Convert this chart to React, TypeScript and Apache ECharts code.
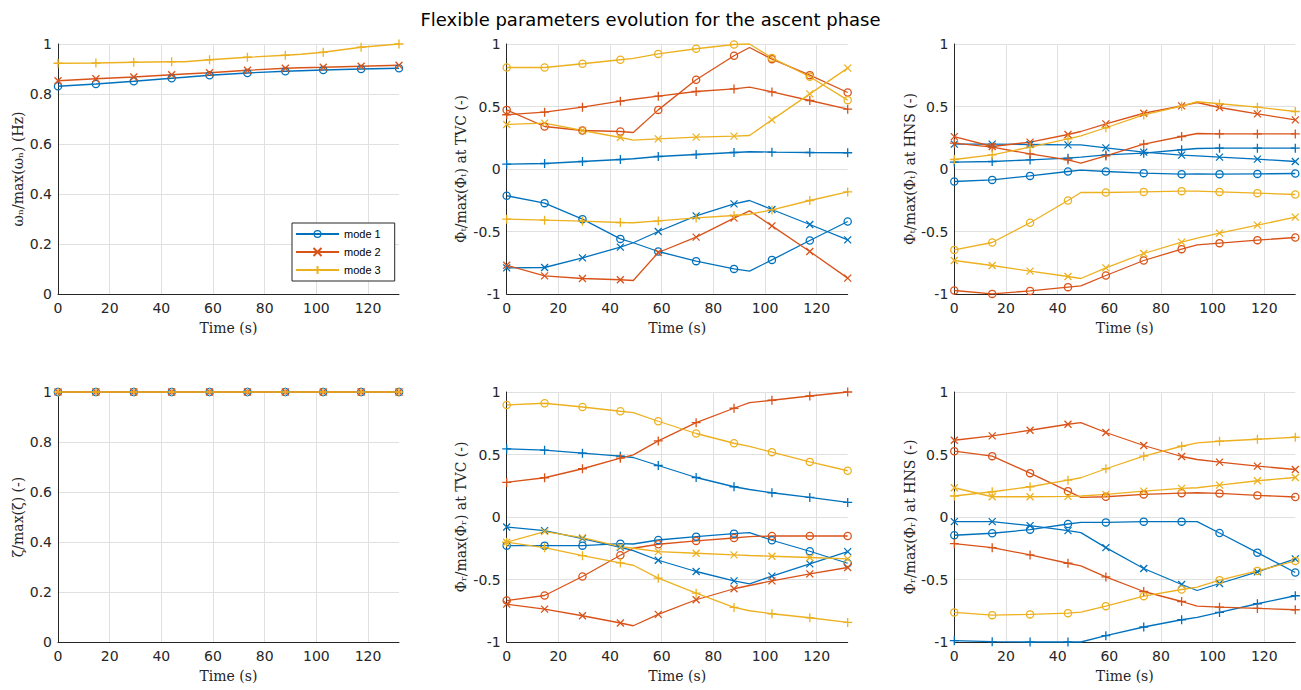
import React, { useEffect, useRef } from 'react';
import * as echarts from 'echarts';

// Time samples (s); indices 4 and 8 are line break points drawn without a marker
const TIME = [0, 14.67, 29.33, 44, 49, 58.67, 73.33, 88, 94, 102.67, 117.33, 132];
const KINK = [4, 8];
const X_TICKS = [0, 20, 40, 60, 80, 100, 120];

const MODES = ['mode 1', 'mode 2', 'mode 3'];
const COLORS = ['#0072BD', '#D95319', '#EDB120'];

// Plot 1: natural frequency
const OMEGA_M1 = [0.831, 0.84, 0.851, 0.863, 0.867, 0.875, 0.884, 0.891, 0.893, 0.896, 0.9, 0.903];
const OMEGA_M2 = [0.853, 0.861, 0.868, 0.877, 0.88, 0.885, 0.895, 0.903, 0.905, 0.907, 0.911, 0.915];
const OMEGA_M3 = [0.923, 0.924, 0.927, 0.929, 0.929, 0.937, 0.947, 0.955, 0.959, 0.967, 0.987, 1.0];

// Plot 4: damping
const ZETA_M1 = [1, 1, 1, 1, 1, 1, 1, 1, 1, 1, 1, 1];
const ZETA_M2 = [1, 1, 1, 1, 1, 1, 1, 1, 1, 1, 1, 1];
const ZETA_M3 = [1, 1, 1, 1, 1, 1, 1, 1, 1, 1, 1, 1];

// Plot 2: Phi_t at TVC (o, x, + per mode)
const PT_TVC_M1_O = [-0.214, -0.273, -0.401, -0.559, -0.59, -0.66, -0.737, -0.799, -0.817, -0.727, -0.572, -0.42];
const PT_TVC_M1_X = [-0.791, -0.788, -0.711, -0.625, -0.59, -0.5, -0.375, -0.279, -0.252, -0.324, -0.444, -0.567];
const PT_TVC_M1_P = [0.039, 0.044, 0.06, 0.076, 0.082, 0.1, 0.116, 0.132, 0.138, 0.135, 0.132, 0.13];
const PT_TVC_M2_O = [0.473, 0.34, 0.308, 0.3, 0.292, 0.473, 0.714, 0.906, 0.972, 0.879, 0.751, 0.612];
const PT_TVC_M2_X = [-0.77, -0.855, -0.876, -0.886, -0.892, -0.668, -0.545, -0.393, -0.335, -0.455, -0.66, -0.873];
const PT_TVC_M2_P = [0.434, 0.455, 0.495, 0.543, 0.558, 0.583, 0.62, 0.641, 0.655, 0.617, 0.548, 0.479];
const PT_TVC_M3_O = [0.812, 0.812, 0.842, 0.874, 0.885, 0.921, 0.962, 0.996, 1.0, 0.889, 0.738, 0.551];
const PT_TVC_M3_X = [0.356, 0.367, 0.308, 0.252, 0.231, 0.241, 0.255, 0.263, 0.268, 0.393, 0.601, 0.807];
const PT_TVC_M3_P = [-0.401, -0.409, -0.417, -0.428, -0.43, -0.415, -0.391, -0.372, -0.362, -0.327, -0.252, -0.183];

// Plot 3: Phi_t at HNS
const PT_HNS_M1_O = [-0.1, -0.087, -0.055, -0.02, -0.009, -0.02, -0.033, -0.041, -0.039, -0.041, -0.039, -0.036];
const PT_HNS_M1_X = [0.199, 0.199, 0.196, 0.193, 0.193, 0.169, 0.135, 0.111, 0.105, 0.095, 0.079, 0.06];
const PT_HNS_M1_P = [0.055, 0.06, 0.073, 0.087, 0.095, 0.113, 0.127, 0.154, 0.164, 0.167, 0.167, 0.167];
const PT_HNS_M2_O = [-0.972, -0.999, -0.975, -0.945, -0.935, -0.852, -0.732, -0.641, -0.607, -0.593, -0.569, -0.548];
const PT_HNS_M2_X = [0.259, 0.18, 0.215, 0.276, 0.3, 0.361, 0.446, 0.505, 0.532, 0.492, 0.441, 0.393];
const PT_HNS_M2_P = [0.207, 0.175, 0.121, 0.073, 0.047, 0.105, 0.199, 0.26, 0.284, 0.281, 0.281, 0.281];
const PT_HNS_M3_O = [-0.647, -0.588, -0.43, -0.252, -0.188, -0.188, -0.183, -0.177, -0.177, -0.183, -0.193, -0.204];
const PT_HNS_M3_X = [-0.732, -0.772, -0.817, -0.86, -0.876, -0.791, -0.676, -0.585, -0.553, -0.513, -0.449, -0.385];
const PT_HNS_M3_P = [0.076, 0.113, 0.175, 0.241, 0.265, 0.33, 0.433, 0.503, 0.538, 0.522, 0.495, 0.46];

// Plot 5: Phi_r at TVC
const PR_TVC_M1_O = [-0.229, -0.229, -0.229, -0.213, -0.216, -0.184, -0.157, -0.133, -0.125, -0.186, -0.274, -0.37];
const PR_TVC_M1_X = [-0.08, -0.109, -0.173, -0.242, -0.269, -0.346, -0.436, -0.511, -0.535, -0.473, -0.375, -0.277];
const PR_TVC_M1_P = [0.545, 0.535, 0.511, 0.487, 0.476, 0.412, 0.316, 0.242, 0.22, 0.194, 0.157, 0.117];
const PR_TVC_M2_O = [-0.668, -0.628, -0.476, -0.306, -0.25, -0.218, -0.191, -0.168, -0.157, -0.152, -0.152, -0.152];
const PR_TVC_M2_X = [-0.697, -0.737, -0.79, -0.848, -0.87, -0.779, -0.662, -0.574, -0.548, -0.511, -0.455, -0.404];
const PR_TVC_M2_P = [0.277, 0.314, 0.386, 0.471, 0.497, 0.609, 0.755, 0.87, 0.915, 0.934, 0.968, 1.0];
const PR_TVC_M3_O = [0.896, 0.91, 0.88, 0.846, 0.835, 0.766, 0.668, 0.59, 0.565, 0.519, 0.441, 0.37];
const PR_TVC_M3_X = [-0.202, -0.117, -0.165, -0.237, -0.25, -0.277, -0.29, -0.303, -0.308, -0.314, -0.324, -0.335];
const PR_TVC_M3_P = [-0.202, -0.245, -0.309, -0.367, -0.386, -0.489, -0.609, -0.723, -0.75, -0.774, -0.806, -0.843];

// Plot 6: Phi_r at HNS
const PR_HNS_M1_O = [-0.146, -0.13, -0.101, -0.056, -0.043, -0.043, -0.037, -0.037, -0.037, -0.128, -0.285, -0.444];
const PR_HNS_M1_X = [-0.037, -0.037, -0.069, -0.109, -0.125, -0.245, -0.412, -0.54, -0.588, -0.532, -0.439, -0.335];
const PR_HNS_M1_P = [-0.989, -0.997, -1.0, -1.0, -1.0, -0.949, -0.88, -0.822, -0.803, -0.763, -0.694, -0.63];
const PR_HNS_M2_O = [0.527, 0.487, 0.351, 0.207, 0.157, 0.162, 0.181, 0.191, 0.194, 0.189, 0.173, 0.16];
const PR_HNS_M2_X = [0.614, 0.649, 0.694, 0.742, 0.755, 0.676, 0.572, 0.484, 0.46, 0.439, 0.407, 0.38];
const PR_HNS_M2_P = [-0.213, -0.245, -0.303, -0.37, -0.391, -0.479, -0.596, -0.676, -0.713, -0.721, -0.731, -0.742];
const PR_HNS_M3_O = [-0.763, -0.785, -0.779, -0.769, -0.761, -0.713, -0.633, -0.58, -0.561, -0.505, -0.431, -0.351];
const PR_HNS_M3_X = [0.234, 0.162, 0.162, 0.165, 0.168, 0.181, 0.207, 0.229, 0.234, 0.255, 0.29, 0.316];
const PR_HNS_M3_P = [0.168, 0.202, 0.242, 0.295, 0.314, 0.386, 0.487, 0.566, 0.593, 0.606, 0.622, 0.638];

const TITLE = 'Flexible parameters evolution for the ascent phase';
const Y_NAMES = [
  'ωₙ/max(ωₙ) (Hz)',
  'Φₜ/max(Φₜ) at TVC (-)',
  'Φₜ/max(Φₜ) at HNS (-)',
  'ζ/max(ζ) (-)',
  'Φᵣ/max(Φᵣ) at TVC (-)',
  'Φᵣ/max(Φᵣ) at HNS (-)',
];
const X_NAME = 'Time (s)';

const SYM: Record<string, { symbol: string; size: number; bw: number }> = {
  o: {
    symbol: 'path://M0,5A5,5,0,1,0,10,5A5,5,0,1,0,0,5ZM1.5,5A3.5,3.5,0,1,1,8.5,5A3.5,3.5,0,1,1,1.5,5Z',
    size: 8.5,
    bw: 0,
  },
  x: { symbol: 'path://M0,0L10,10M10,0L0,10', size: 7, bw: 1.3 },
  p: { symbol: 'path://M5,0L5,10M0,5L10,5', size: 9, bw: 1.3 },
};

const GRIDS = [
  { left: 58, top: 44 },
  { left: 506.7, top: 44 },
  { left: 954.3, top: 44 },
  { left: 58, top: 392 },
  { left: 506.7, top: 392 },
  { left: 954.3, top: 392 },
];
const NAME_GAPS = [33, 39, 37, 33, 39, 37];

function mkSeries(name: string, g: number, values: number[], mode: number, marker: string) {
  const c = COLORS[mode];
  const s = SYM[marker];
  return {
    type: 'line',
    name,
    xAxisIndex: g,
    yAxisIndex: g,
    data: TIME.map((t, i) =>
      KINK.includes(i) ? { value: [t, values[i]], symbol: 'none' } : [t, values[i]]
    ),
    symbol: s.symbol,
    symbolSize: s.size,
    showAllSymbol: true,
    lineStyle: { color: c, width: 1.3 },
    itemStyle: { color: c, borderColor: c, borderWidth: s.bw },
    emphasis: { disabled: true },
    silent: true,
    clip: false,
  };
}

const fmt = (v: number) => String(Math.round(v * 10) / 10);

export default function App() {
  const ref = useRef<HTMLDivElement>(null);
  useEffect(() => {
    if (!ref.current) return;
    const chart = echarts.init(ref.current, undefined, { renderer: 'svg' });
    const grids = GRIDS.map((g) => ({ left: g.left, top: g.top, width: 341, height: 250 }));
    const xAxes = GRIDS.map((_, g) => ({
      type: 'value',
      gridIndex: g,
      min: 0,
      max: 132,
      interval: 20,
      axisLine: { show: true, onZero: false, lineStyle: { color: '#262626', width: 1 } },
      axisTick: { show: false },
      axisLabel: {
        color: '#262626',
        fontFamily: 'DejaVu Sans',
        fontSize: 14,
        margin: 7,
        formatter: (v: number) => (X_TICKS.includes(Math.round(v)) && Math.abs(v - Math.round(v)) < 1e-6 ? String(Math.round(v)) : ''),
      },
      splitLine: { show: true, showMaxLine: false, lineStyle: { color: '#e0e0e0', width: 1 } },
      name: X_NAME,
      nameLocation: 'middle',
      nameGap: 27,
      nameTextStyle: { fontFamily: 'DejaVu Serif', fontSize: 14, color: '#262626' },
    }));
    const yAxes = GRIDS.map((_, g) => {
      const unit = g === 0 || g === 3;
      return {
        type: 'value',
        gridIndex: g,
        min: unit ? 0 : -1,
        max: 1,
        interval: unit ? 0.2 : 0.5,
        axisLine: { show: true, onZero: false, lineStyle: { color: '#262626', width: 1 } },
        axisTick: { show: false },
        axisLabel: { color: '#262626', fontFamily: 'DejaVu Sans', fontSize: 14, margin: 6, formatter: fmt },
        splitLine: { show: true, lineStyle: { color: '#e0e0e0', width: 1 } },
        name: Y_NAMES[g],
        nameLocation: 'middle',
        nameGap: NAME_GAPS[g],
        nameRotate: 90,
        nameTextStyle: { fontFamily: 'DejaVu Serif', fontSize: 14, color: '#262626' },
      };
    });
    const series: any[] = [
      mkSeries('mode 1', 0, OMEGA_M1, 0, 'o'),
      mkSeries('mode 2', 0, OMEGA_M2, 1, 'x'),
      mkSeries('mode 3', 0, OMEGA_M3, 2, 'p'),

      mkSeries('p2 m1 o', 1, PT_TVC_M1_O, 0, 'o'),
      mkSeries('p2 m1 x', 1, PT_TVC_M1_X, 0, 'x'),
      mkSeries('p2 m1 +', 1, PT_TVC_M1_P, 0, 'p'),
      mkSeries('p2 m2 o', 1, PT_TVC_M2_O, 1, 'o'),
      mkSeries('p2 m2 x', 1, PT_TVC_M2_X, 1, 'x'),
      mkSeries('p2 m2 +', 1, PT_TVC_M2_P, 1, 'p'),
      mkSeries('p2 m3 o', 1, PT_TVC_M3_O, 2, 'o'),
      mkSeries('p2 m3 x', 1, PT_TVC_M3_X, 2, 'x'),
      mkSeries('p2 m3 +', 1, PT_TVC_M3_P, 2, 'p'),

      mkSeries('p3 m1 o', 2, PT_HNS_M1_O, 0, 'o'),
      mkSeries('p3 m1 x', 2, PT_HNS_M1_X, 0, 'x'),
      mkSeries('p3 m1 +', 2, PT_HNS_M1_P, 0, 'p'),
      mkSeries('p3 m2 o', 2, PT_HNS_M2_O, 1, 'o'),
      mkSeries('p3 m2 x', 2, PT_HNS_M2_X, 1, 'x'),
      mkSeries('p3 m2 +', 2, PT_HNS_M2_P, 1, 'p'),
      mkSeries('p3 m3 o', 2, PT_HNS_M3_O, 2, 'o'),
      mkSeries('p3 m3 x', 2, PT_HNS_M3_X, 2, 'x'),
      mkSeries('p3 m3 +', 2, PT_HNS_M3_P, 2, 'p'),

      mkSeries('p4 m1', 3, ZETA_M1, 0, 'o'),
      mkSeries('p4 m2', 3, ZETA_M2, 1, 'x'),
      mkSeries('p4 m3', 3, ZETA_M3, 2, 'p'),

      mkSeries('p5 m1 o', 4, PR_TVC_M1_O, 0, 'o'),
      mkSeries('p5 m1 x', 4, PR_TVC_M1_X, 0, 'x'),
      mkSeries('p5 m1 +', 4, PR_TVC_M1_P, 0, 'p'),
      mkSeries('p5 m2 o', 4, PR_TVC_M2_O, 1, 'o'),
      mkSeries('p5 m2 x', 4, PR_TVC_M2_X, 1, 'x'),
      mkSeries('p5 m2 +', 4, PR_TVC_M2_P, 1, 'p'),
      mkSeries('p5 m3 o', 4, PR_TVC_M3_O, 2, 'o'),
      mkSeries('p5 m3 x', 4, PR_TVC_M3_X, 2, 'x'),
      mkSeries('p5 m3 +', 4, PR_TVC_M3_P, 2, 'p'),

      mkSeries('p6 m1 o', 5, PR_HNS_M1_O, 0, 'o'),
      mkSeries('p6 m1 x', 5, PR_HNS_M1_X, 0, 'x'),
      mkSeries('p6 m1 +', 5, PR_HNS_M1_P, 0, 'p'),
      mkSeries('p6 m2 o', 5, PR_HNS_M2_O, 1, 'o'),
      mkSeries('p6 m2 x', 5, PR_HNS_M2_X, 1, 'x'),
      mkSeries('p6 m2 +', 5, PR_HNS_M2_P, 1, 'p'),
      mkSeries('p6 m3 o', 5, PR_HNS_M3_O, 2, 'o'),
      mkSeries('p6 m3 x', 5, PR_HNS_M3_X, 2, 'x'),
      mkSeries('p6 m3 +', 5, PR_HNS_M3_P, 2, 'p'),
    ];
    chart.setOption({
      animation: false,
      backgroundColor: '#ffffff',
      title: {
        text: TITLE,
        left: 'center',
        top: 5,
        textStyle: { fontFamily: 'DejaVu Sans', fontSize: 18, fontWeight: 'normal', color: '#000000' },
      },
      legend: {
        data: MODES,
        orient: 'vertical',
        left: 292,
        top: 223,
        padding: [5, 14, 5, 3],
        itemWidth: 43,
        itemHeight: 10,
        itemGap: 6,
        borderColor: '#262626',
        borderWidth: 1,
        backgroundColor: '#ffffff',
        selectedMode: false,
        textStyle: { fontFamily: 'Liberation Sans', fontSize: 11, color: '#000000', lineHeight: 12 },
      },
      grid: grids,
      xAxis: xAxes,
      yAxis: yAxes,
      series,
    });
    return () => chart.dispose();
  }, []);
  return <div ref={ref} style={{ position: 'absolute', left: 0, top: 0, width: 1301, height: 690 }} />;
}
